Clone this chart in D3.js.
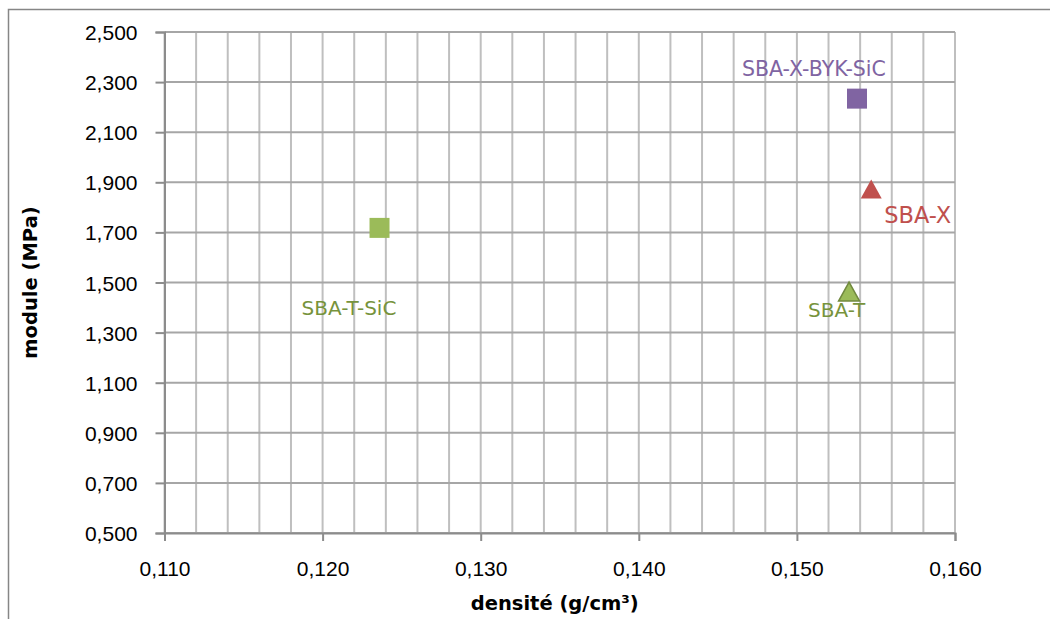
<!DOCTYPE html>
<html>
<head>
<meta charset="utf-8">
<script src="https://cdn.jsdelivr.net/npm/d3@7"></script>
<style>
  body { margin: 0; background: #fff; }
  svg { display: block; font-family: "DejaVu Sans", sans-serif; }
</style>
</head>
<body>
<div id="chart"></div>
<script>
// data
var names = ["SBA-X-BYK-SiC", "SBA-X", "SBA-T-SiC", "SBA-T"];
var densite = [0.1538, 0.1547, 0.1236, 0.1533];
var module_ = [2.234, 1.871, 1.718, 1.462];
var shapes = ["square", "triangle", "square", "triangle"];
var xTicks = [0.110, 0.120, 0.130, 0.140, 0.150, 0.160];
var yTicks = [0.5, 0.7, 0.9, 1.1, 1.3, 1.5, 1.7, 1.9, 2.1, 2.3, 2.5];

// styling per point (kept apart from the values)
var fills = ["#8064A2", "#C0504D", "#9BBB59", "#9BBB59"];
var labelColors = ["#8064A2", "#C0504D", "#77933C", "#77933C"];
var labelSize = [20.5, 22.5, 20, 20];
var labelOffset = [[-115, -23], [13, 33], [-78, 87], [-41, 25]];

var W = 1050, H = 619;
var margin = { top: 32, right: 95, bottom: 86, left: 164.5 };
var width = W - margin.left - margin.right,
  height = H - margin.top - margin.bottom;

var fr = d3.formatLocale({ decimal: ",", thousands: " ", grouping: [3], currency: ["", "€"] });
var fmt = fr.format(".3f");

var x = d3.scaleLinear().domain([0.110, 0.160]).range([0, width]);
var y = d3.scaleLinear().domain([0.5, 2.5]).range([height, 0]);

var svg = d3.select("#chart").append("svg").attr("width", W).attr("height", H);

// chart frame (runs past the right and bottom edges)
svg.append("rect")
  .attr("x", 8.5).attr("y", 9.5)
  .attr("width", 1200).attr("height", 800)
  .attr("fill", "#fff")
  .attr("stroke", "#868686")
  .attr("stroke-width", 1.5);

var g = svg.append("g").attr("transform", "translate(" + margin.left + "," + margin.top + ")");

// minor vertical gridlines every 0.002
var xGrid = d3.range(0, 26).map(function (i) { return 0.110 + i * 0.002; });
g.selectAll(".vgrid")
  .data(xGrid)
  .join("line")
  .attr("class", "vgrid")
  .attr("x1", function (d) { return x(d); })
  .attr("x2", function (d) { return x(d); })
  .attr("y1", 0).attr("y2", height)
  .attr("stroke", "#BFBFBF")
  .attr("stroke-width", 2);

// horizontal gridlines
g.selectAll(".hgrid")
  .data(yTicks)
  .join("line")
  .attr("class", "hgrid")
  .attr("x1", 0).attr("x2", width)
  .attr("y1", function (d) { return y(d); })
  .attr("y2", function (d) { return y(d); })
  .attr("stroke", "#A6A6A6")
  .attr("stroke-width", 2);

// Y axis
var yAxis = g.append("g")
  .call(d3.axisLeft(y).tickValues(yTicks).tickFormat(fmt).tickSize(9).tickPadding(18));
yAxis.select(".domain").attr("stroke", "#8C8C8C").attr("stroke-width", 2);
yAxis.selectAll(".tick line").attr("stroke", "#8C8C8C").attr("stroke-width", 2);
yAxis.selectAll("text")
  .attr("fill", "#000")
  .style("font-size", "21px")
  .attr("dy", "0.36em");

// X axis
var xAxis = g.append("g")
  .attr("transform", "translate(0," + height + ")")
  .call(d3.axisBottom(x).tickValues(xTicks).tickFormat(fmt).tickSize(8).tickPadding(20));
xAxis.select(".domain").attr("stroke", "#8C8C8C").attr("stroke-width", 2);
xAxis.selectAll(".tick line").attr("stroke", "#8C8C8C").attr("stroke-width", 2);
xAxis.selectAll("text")
  .attr("fill", "#000")
  .style("font-size", "21px");

// axis titles
svg.append("text")
  .attr("x", margin.left + width / 2 - 5)
  .attr("y", 610)
  .attr("text-anchor", "middle")
  .style("font-size", "19.5px")
  .style("font-weight", "bold")
  .text("densité (g/cm³)");

svg.append("text")
  .attr("transform", "translate(37," + (margin.top + height / 2) + ") rotate(-90)")
  .attr("text-anchor", "middle")
  .style("font-size", "19.5px")
  .style("font-weight", "bold")
  .text("module (MPa)");

// points
var pts = names.map(function (n, i) {
  return { name: n, x: densite[i], y: module_[i], shape: shapes[i], i: i };
});

var sym = d3.symbol();
g.selectAll(".pt")
  .data(pts)
  .join("path")
  .attr("class", "pt")
  .attr("transform", function (d) { return "translate(" + x(d.x) + "," + y(d.y) + ")"; })
  .attr("d", function (d) {
    if (d.shape === "square") return sym.type(d3.symbolSquare).size(400)();
    return "M0,-10L10.5,9L-10.5,9Z";
  })
  .attr("fill", function (d) { return fills[d.i]; })
  .attr("stroke", function (d) { return d.name === "SBA-T" ? "#71893F" : "none"; })
  .attr("stroke-width", 1.5);

// data labels
g.selectAll(".lbl")
  .data(pts)
  .join("text")
  .attr("class", "lbl")
  .attr("x", function (d) { return x(d.x) + labelOffset[d.i][0]; })
  .attr("y", function (d) { return y(d.y) + labelOffset[d.i][1]; })
  .attr("fill", function (d) { return labelColors[d.i]; })
  .style("font-size", function (d) { return labelSize[d.i] + "px"; })
  .text(function (d) { return d.name; });
</script>
</body>
</html>
